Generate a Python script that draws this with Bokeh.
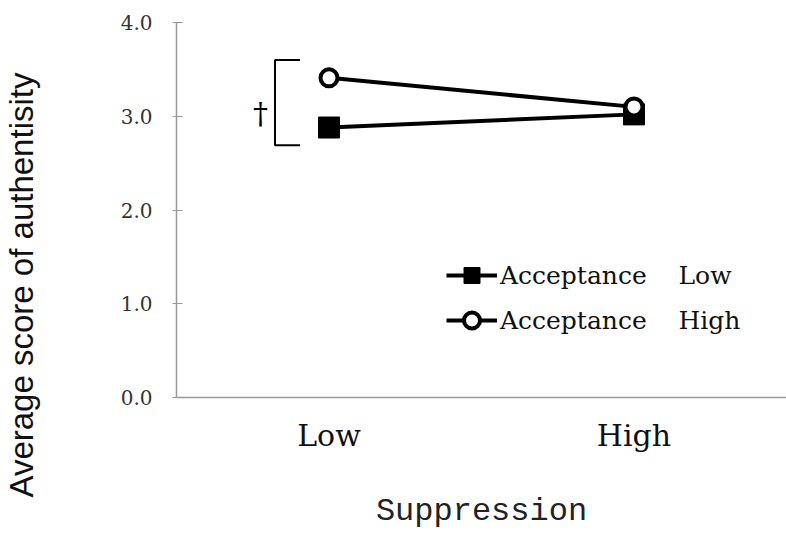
from bokeh.plotting import figure
from bokeh.layouts import row
from bokeh.models import FactorRange, Range1d, FixedTicker, Legend, LegendItem, Title
from bokeh.core.properties import value
from bokeh.embed import file_html
from bokeh.resources import INLINE

# ---- data ----
suppression = ["Low", "High"]
acceptance_low = [2.88, 3.02]
acceptance_high = [3.41, 3.10]
y_ticks = [0, 1, 2, 3, 4]
y_tick_labels = ["0.0", "1.0", "2.0", "3.0", "4.0"]
series_names = ["Acceptance    Low", "Acceptance    High"]
x_title = "Suppression"
y_title = "Average score of authentisity"

# significance bracket annotation (Low suppression group)
bracket_y = [3.60, 2.69]
bracket_x_offsets = [-0.177, -0.095]
dagger_offset = -0.225
dagger_y = 3.03
dagger_text = "†"

LEFT_W = 50
H = 533
TOP, BOTTOM = 22, 136

# ---- narrow strip carrying the y-axis title ----
t = figure(width=LEFT_W, height=H, output_backend="svg", toolbar_location=None,
           x_range=Range1d(0, 1), y_range=Range1d(0, 1),
           min_border_left=0, min_border_right=0, min_border_top=TOP, min_border_bottom=BOTTOM,
           x_axis_type=None, y_axis_type=None)
t.outline_line_color = None
t.xgrid.grid_line_color = None
t.ygrid.grid_line_color = None
t.add_layout(Title(text=y_title, align="left", offset=-100, standoff=2,
                   vertical_align="middle",
                   text_font="Liberation Sans", text_font_size="33px",
                   text_font_style="normal", text_color="#111111"), "left")

# ---- main chart ----
p = figure(width=786 - LEFT_W, height=H, output_backend="svg", toolbar_location=None,
           x_range=FactorRange(factors=suppression, range_padding=0),
           y_range=Range1d(0, 4),
           min_border_left=176 - LEFT_W, min_border_right=0, min_border_top=TOP,
           min_border_bottom=BOTTOM)

p.outline_line_color = None
p.xgrid.grid_line_color = None
p.ygrid.grid_line_color = None
p.background_fill_color = "white"
p.border_fill_color = "white"

# y axis
ya = p.yaxis[0]
ya.ticker = FixedTicker(ticks=y_ticks)
ya.major_label_overrides = {tk: lb for tk, lb in zip(y_ticks, y_tick_labels)}
ya.minor_tick_line_color = None
ya.major_tick_in = 6
ya.major_tick_out = 4
ya.axis_line_color = "#999999"
ya.major_tick_line_color = "#999999"
ya.axis_line_width = 1.5
ya.major_label_text_font = "DejaVu Serif"
ya.major_label_text_font_size = "20px"
ya.major_label_text_color = "#333333"
ya.major_label_standoff = 20

# x axis
xa = p.xaxis[0]
xa.major_tick_line_color = None
xa.minor_tick_line_color = None
xa.axis_line_color = "#999999"
xa.axis_line_width = 1.5
xa.major_label_text_font = "DejaVu Serif"
xa.major_label_text_font_size = "30px"
xa.major_label_text_color = "#111111"
xa.major_label_standoff = 14
xa.axis_label = x_title
xa.axis_label_text_font = "Liberation Mono"
xa.axis_label_text_font_size = "32px"
xa.axis_label_text_font_style = "normal"
xa.axis_label_text_color = "#222222"
xa.axis_label_standoff = 37

# series
l1 = p.line(suppression, acceptance_low, line_color="black", line_width=4)
s1 = p.scatter(suppression, acceptance_low, marker="square", size=21,
               fill_color="black", line_color="black", line_width=1)
l2 = p.line(suppression, acceptance_high, line_color="black", line_width=4)
s2 = p.scatter(suppression, acceptance_high, marker="circle", size=17,
               fill_color="white", line_color="black", line_width=4)

# bracket
bx_v = ("Low", bracket_x_offsets[0])
bx_e = ("Low", bracket_x_offsets[1])
p.line([bx_e, bx_v, bx_v, bx_e],
       [bracket_y[0], bracket_y[0], bracket_y[1], bracket_y[1]],
       line_color="black", line_width=2)
p.text(x=[("Low", dagger_offset)], y=[dagger_y], text=[dagger_text],
       text_font=value("DejaVu Serif"), text_font_size="30px",
       text_align="center", text_baseline="middle", text_color="black")

legend = Legend(items=[LegendItem(label=series_names[0], renderers=[l1, s1]),
                       LegendItem(label=series_names[1], renderers=[l2, s2])],
                location=(270, 57), padding=0, margin=0, spacing=5,
                glyph_width=51, glyph_height=40, label_standoff=3,
                label_text_font="DejaVu Serif", label_text_font_size="25px",
                label_text_color="#111111",
                border_line_alpha=0, background_fill_alpha=0)
p.add_layout(legend)

layout = row(t, p)
open("out.html", "w").write(file_html(layout, INLINE))
